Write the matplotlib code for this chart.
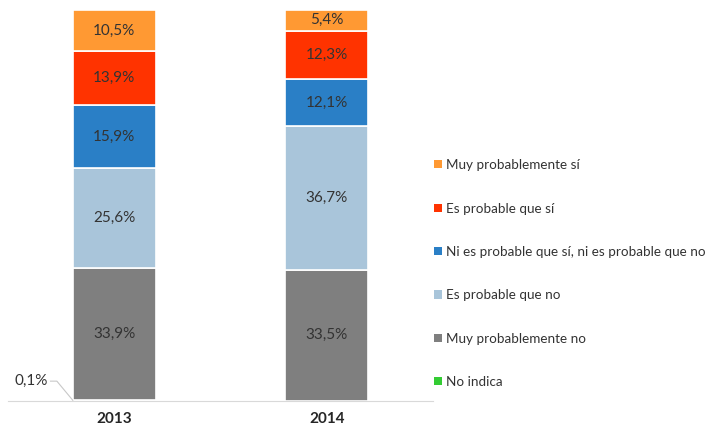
import matplotlib.pyplot as plt
from matplotlib.patches import Patch

# data
years = ['2013', '2014']
series = ['No indica', 'Muy probablemente no', 'Es probable que no',
          'Ni es probable que sí, ni es probable que no',
          'Es probable que sí', 'Muy probablemente sí']
no_indica = [0.1, 0.0]
muy_prob_no = [33.9, 33.5]
prob_no = [25.6, 36.7]
ni_ni = [15.9, 12.1]
prob_si = [13.9, 12.3]
muy_prob_si = [10.5, 5.4]

colors = ['#33cc33', '#7f7f7f', '#a9c5da', '#2a7fc6', '#ff3300', '#ff9933']
values = [no_indica, muy_prob_no, prob_no, ni_ni, prob_si, muy_prob_si]

plt.rcParams['font.family'] = ['Lato', 'DejaVu Sans']

fig = plt.figure(figsize=(7.12, 4.3), dpi=100)
ax = fig.add_axes([8 / 712, 1 - 400.7 / 430, 425 / 712, 391 / 430])

x = [0, 1]
w = 0.39
bottom = [0, 0]
for vals, col, name in zip(values, colors, series):
    ax.bar(x, vals, bottom=bottom, width=w, color=col,
           edgecolor='white', linewidth=1.2, label=name)
    for xi, v, b in zip(x, vals, bottom):
        if v >= 1:
            ax.text(xi, b + v / 2, f'{v:.1f}%'.replace('.', ','),
                    ha='center', va='center', fontsize=11, color='#333333')
    bottom = [b + v for b, v in zip(bottom, vals)]

# small value label with leader line to the bar's lower-left corner
left_edge = x[0] - w / 2
ax.text(-0.47, 5.0, f'{no_indica[0]:.1f}%'.replace('.', ','),
        fontsize=11, color='#333333', ha='left', va='center')
ax.plot([-0.30, -0.27, left_edge], [5.0, 5.0, no_indica[0]],
        color='#c8c8c8', lw=0.8, clip_on=False)

ax.set_xlim(-0.5, 1.5)
ax.set_ylim(0, 100)
ax.set_xticks(x)
ax.set_xticklabels(years, fontsize=11, fontweight='bold', color='#262626')
ax.tick_params(axis='x', length=0, pad=8)
ax.set_yticks([])
for s in ['top', 'right', 'left']:
    ax.spines[s].set_visible(False)
ax.spines['bottom'].set_color('#d9d9d9')

handles = [Patch(facecolor=c, edgecolor='none') for c in colors][::-1]
fig.legend(handles, series[::-1], loc='upper left',
           bbox_to_anchor=(422 / 712, 1 - 147 / 430), frameon=False,
           fontsize=9.7, handlelength=0.55, handleheight=0.55,
           handletextpad=0.3, labelspacing=2.33, labelcolor='#333333')

fig.savefig('out.png', dpi=100)
